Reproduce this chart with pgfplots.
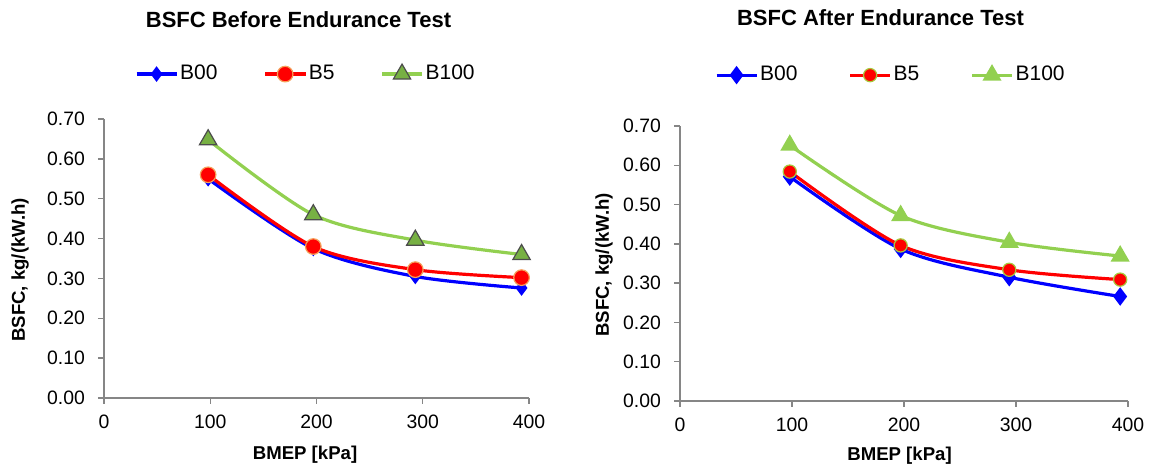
\documentclass[border=0pt]{standalone}
\usepackage{pgfplots}
\pgfplotsset{compat=1.18}
\usepackage{fontspec}
\setmainfont{Liberation Sans}
\definecolor{cB00}{HTML}{0000FF}
\definecolor{cB5}{HTML}{FF0000}
\definecolor{cB100}{HTML}{92D050}
\definecolor{tri}{HTML}{77B043}
\definecolor{axgray}{HTML}{868686}
\definecolor{b5edgeL}{HTML}{F5A05A}
\definecolor{b5edgeR}{HTML}{A8C83C}
\newcommand{\lblfont}{\fontsize{9.3}{11}\selectfont\bfseries}

\pgfplotsset{
  bsfc/.style={
    scale only axis,
    xmin=0, xmax=400, ymin=0, ymax=0.7,
    xtick={0,100,200,300,400},
    ytick={0,0.1,0.2,0.3,0.4,0.5,0.6,0.7},
    axis x line*=bottom, axis y line*=left,
    axis line style={axgray, line width=0.7pt},
    tick style={axgray, line width=0.7pt},
    tick align=outside, major tick length=3pt,
    /pgf/number format/assume math mode=true,
    yticklabel style={/pgf/number format/.cd, fixed, fixed zerofill, precision=2, /tikz/.cd, font=\fontsize{9.7}{11}\selectfont, xshift=-3pt},
    xticklabel style={font=\fontsize{9.7}{11}\selectfont, yshift=-2pt},
    scaled y ticks=false,
    clip=false,
    xlabel={BMEP [kPa]},
    ylabel={BSFC, kg/(kW.h)},
    every axis title shift=0pt,
    legend columns=3,
    legend cell align=left,
    legend style={draw=none, fill=none, inner sep=0pt, outer sep=0pt, anchor=west,
      font=\fontsize{10.5}{12}\selectfont, nodes={inner sep=1pt}},
    legend image code/.code={\draw[mark repeat=2,mark phase=2,#1] plot coordinates {(0pt,0pt) (10pt,0pt) (20pt,0pt)};},
    title style={font=\fontsize{11}{13}\selectfont\bfseries, anchor=center},
  }
}

\begin{document}
\begin{tikzpicture}
\path[use as bounding box] (0,0) rectangle (575pt,232.5pt);

% Left chart
\begin{axis}[bsfc,
  at={(52pt,33.5pt)}, anchor=south west,
  width=212.5pt, height=139.5pt,
  title={BSFC Before Endurance Test},
  title style={at={(axis description cs:0.4576,1.355)}},
  every axis y label/.style={at={(axis description cs:-0.1976,0.459)}, anchor=center, rotate=90, font=\lblfont},
  every axis x label/.style={at={(axis description cs:0.473,0)}, anchor=center, yshift=-28.5pt, font=\lblfont},
  legend style={at={(axis description cs:0.0729,1.161)}, /tikz/every even column/.append style={column sep=22pt}},
]
\addplot[cB00, line width=1.6pt, smooth, mark=diamond*, mark size=2.6pt, mark options={fill=cB00, draw=cB00}]
  coordinates {(98,0.550) (197,0.375) (293,0.305) (393,0.276)};
\addlegendentry{B00}
\addplot[cB5, line width=1.6pt, smooth, mark=*, mark size=3.9pt, mark options={fill=cB5, draw=b5edgeL, line width=0.6pt}]
  coordinates {(98,0.560) (197,0.380) (293,0.322) (393,0.302)};
\addlegendentry{B5}
\addplot[cB100, line width=1.6pt, smooth, mark=triangle*, mark size=5pt, mark options={fill=tri, draw=black!70, line width=0.6pt}]
  coordinates {(98,0.648) (197,0.460) (293,0.396) (393,0.360)};
\addlegendentry{B100}
\end{axis}

% Right chart
\begin{axis}[bsfc,
  at={(340pt,32pt)}, anchor=south west,
  width=224pt, height=137.5pt,
  title={BSFC After Endurance Test},
  title style={at={(axis description cs:0.4475,1.393)}},
  every axis y label/.style={at={(axis description cs:-0.1696,0.495)}, anchor=center, rotate=90, font=\lblfont},
  every axis x label/.style={at={(axis description cs:0.49,0)}, anchor=center, yshift=-27.5pt, font=\lblfont},
  legend style={at={(axis description cs:0.078,1.185)}, /tikz/every even column/.append style={column sep=24.5pt}},
]
\addplot[cB00, line width=1.6pt, smooth, mark=diamond*, mark size=3.3pt, mark options={fill=cB00, draw=cB00}]
  coordinates {(98,0.571) (197,0.387) (294,0.315) (393,0.266)};
\addlegendentry{B00}
\addplot[cB5, line width=1.6pt, smooth, mark=*, mark size=3.3pt, mark options={fill=cB5, draw=b5edgeR, line width=0.6pt}]
  coordinates {(98,0.584) (197,0.396) (294,0.334) (393,0.309)};
\addlegendentry{B5}
\addplot[cB100, line width=1.6pt, smooth, mark=triangle*, mark size=3.9pt, mark options={fill=cB100, draw=cB100}]
  coordinates {(98,0.651) (197,0.472) (294,0.404) (393,0.369)};
\addlegendentry{B100}
\end{axis}
\end{tikzpicture}
\end{document}
